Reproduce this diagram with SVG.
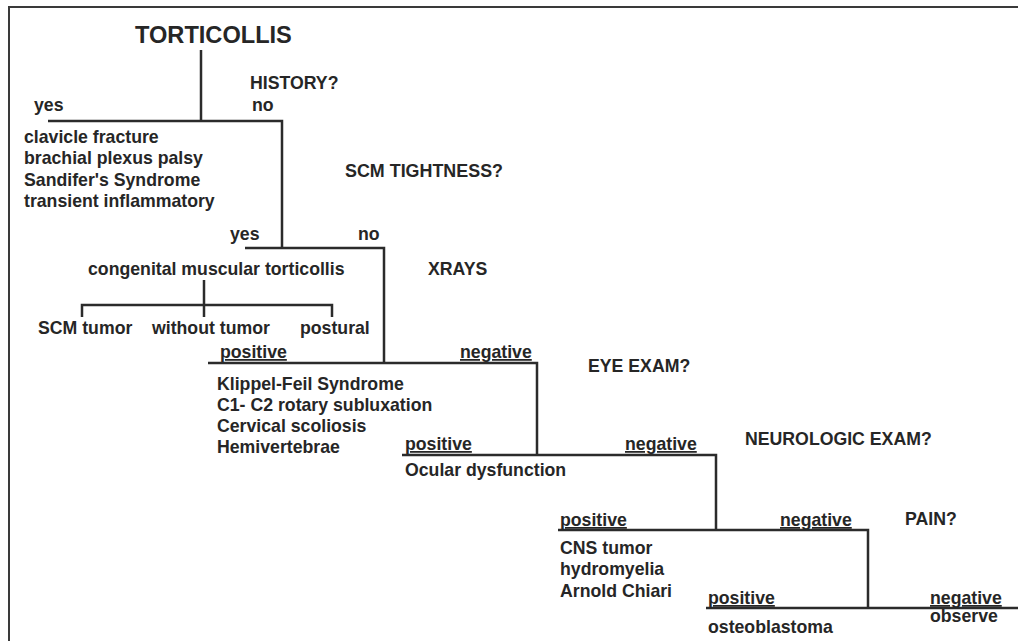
<svg xmlns="http://www.w3.org/2000/svg" width="1018" height="641" viewBox="0 0 1018 641">
<style>
text{font-family:"Liberation Sans",Arial,Helvetica,sans-serif;font-weight:bold;fill:#262626;font-size:17.7px}
.t{font-size:23.6px}
.u{text-decoration:underline}
.ln{stroke:#2b2b2b;stroke-width:2.5;fill:none}
.bd{stroke:#3a3a3a;stroke-width:2;fill:none}
</style>
<rect width="1018" height="641" fill="#fff"/>
<g id="frame"><path class="bd" d="M1018,7 H9 V641"/></g>
<g id="connectors">
<path class="ln" d="M201,50 V121"/>
<path class="ln" d="M48,121 H282 V248"/>
<path class="ln" d="M245,248 H384 V363"/>
<path class="ln" d="M204,280 V317"/>
<path class="ln" d="M82,317 V305 H332 V317"/>
<path class="ln" d="M208,363 H537 V455"/>
<path class="ln" d="M402,455 H716 V530"/>
<path class="ln" d="M558,530 H868 V608"/>
<path class="ln" d="M706,608 H1018"/>
</g>
<g id="n-torticollis"><text class="t" x="135" y="43">TORTICOLLIS</text></g>
<g id="q-history"><text x="250" y="89">HISTORY?</text></g>
<g id="l-yes1"><text x="34" y="111">yes</text></g>
<g id="l-no1"><text x="252" y="111">no</text></g>
<g id="n-history-yes">
<text x="24" y="143">clavicle fracture</text>
<text x="24" y="164">brachial plexus palsy</text>
<text x="24" y="186">Sandifer's Syndrome</text>
<text x="24" y="207">transient inflammatory</text>
</g>
<g id="q-scm"><text x="345" y="177" textLength="158" lengthAdjust="spacingAndGlyphs">SCM TIGHTNESS?</text></g>
<g id="l-yes2"><text x="230" y="240">yes</text></g>
<g id="l-no2"><text x="358" y="240">no</text></g>
<g id="n-cmt"><text x="88" y="275">congenital muscular torticollis</text></g>
<g id="q-xrays"><text x="428" y="275">XRAYS</text></g>
<g id="n-scm-tumor"><text x="38" y="334">SCM tumor</text></g>
<g id="n-without-tumor"><text x="152" y="334">without tumor</text></g>
<g id="n-postural"><text x="300" y="334">postural</text></g>
<g id="l-pos1"><text class="u" x="220" y="358">positive</text></g>
<g id="l-neg1"><text class="u" x="460" y="358">negative</text></g>
<g id="q-eye"><text x="588" y="372">EYE EXAM?</text></g>
<g id="n-xray-pos">
<text x="217" y="390">Klippel-Feil Syndrome</text>
<text x="217" y="411">C1- C2 rotary subluxation</text>
<text x="217" y="432">Cervical scoliosis</text>
<text x="217" y="453">Hemivertebrae</text>
</g>
<g id="l-pos2"><text class="u" x="405" y="450">positive</text></g>
<g id="l-neg2"><text class="u" x="625" y="450">negative</text></g>
<g id="q-neuro"><text x="745" y="445">NEUROLOGIC EXAM?</text></g>
<g id="n-ocular"><text x="405" y="476">Ocular dysfunction</text></g>
<g id="l-pos3"><text class="u" x="560" y="526">positive</text></g>
<g id="l-neg3"><text class="u" x="780" y="526">negative</text></g>
<g id="q-pain"><text x="905" y="525">PAIN?</text></g>
<g id="n-neuro-pos">
<text x="560" y="554">CNS tumor</text>
<text x="560" y="575">hydromyelia</text>
<text x="560" y="597">Arnold Chiari</text>
</g>
<g id="l-pos4"><text class="u" x="708" y="604">positive</text></g>
<g id="l-neg4"><text class="u" x="930" y="604">negative</text></g>
<g id="n-observe"><text x="930" y="622">observe</text></g>
<g id="n-osteoblastoma"><text x="708" y="633">osteoblastoma</text></g>
</svg>
